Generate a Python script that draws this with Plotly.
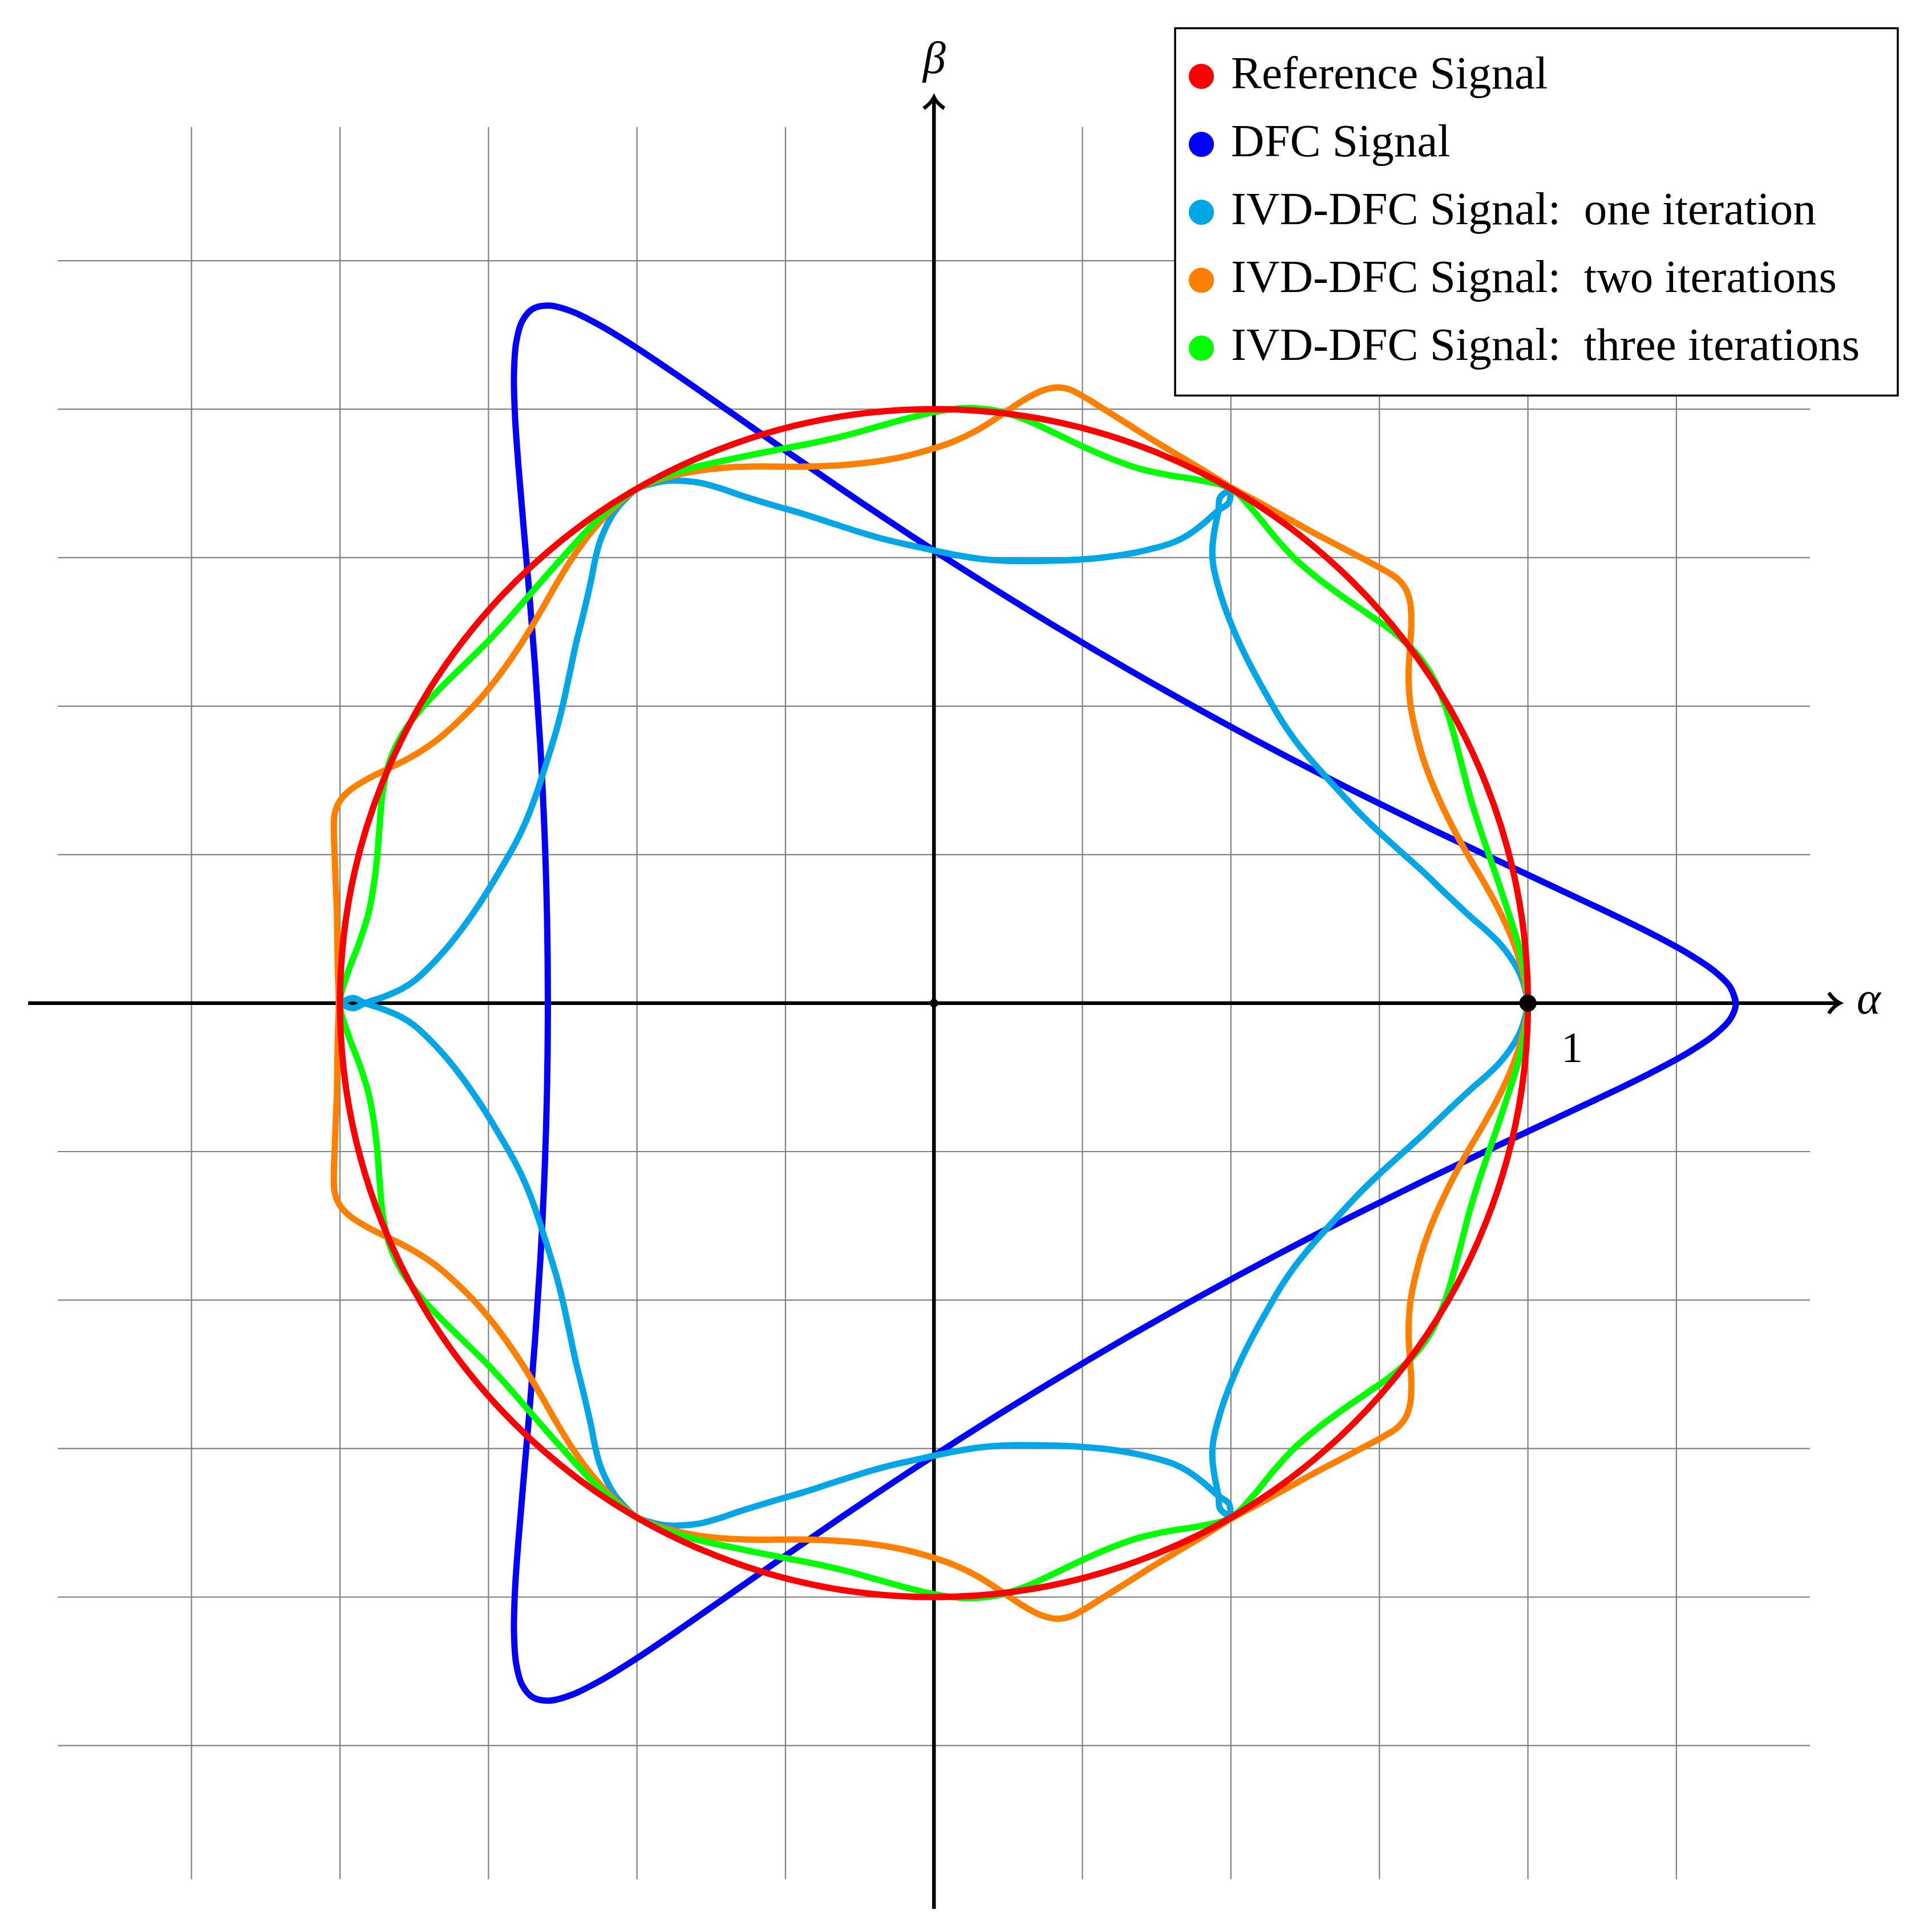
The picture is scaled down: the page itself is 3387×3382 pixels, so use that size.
import plotly.graph_objects as go

# alpha-beta plane: reference circle, DFC signal and IVD-DFC iterations
# values; upper half (beta >= 0) then lower half

ref_radius = 1.0

dfc_upper_alpha = [1.3500, 1.3409, 1.3137, 1.2690, 1.2078, 1.1313, 1.0410, 0.9389, 0.8268, 0.7071, 0.5820,
                   0.4539, 0.3250, 0.1976, 0.0739, -0.0443, -0.1552, -0.2575, -0.3500, -0.4318, -0.5025,
                   -0.5619, -0.6101, -0.6476, -0.6750, -0.6933, -0.7036, -0.7071, -0.7053, -0.6994, -0.6910,
                   -0.6813, -0.6716, -0.6628, -0.6559, -0.6515, -0.6500]
dfc_upper_beta = [0.0000, 0.0264, 0.0539, 0.0838, 0.1170, 0.1545, 0.1969, 0.2447, 0.2981, 0.3571, 0.4214,
                  0.4903, 0.5629, 0.6382, 0.7147, 0.7909, 0.8651, 0.9354, 1.0000, 1.0570, 1.1045,
                  1.1409, 1.1647, 1.1744, 1.1691, 1.1480, 1.1107, 1.0571, 0.9875, 0.9025, 0.8031,
                  0.6907, 0.5670, 0.4338, 0.2934, 0.1479, 0.0000]
dfc_lower_alpha = [-0.6515, -0.6559, -0.6628, -0.6716, -0.6813, -0.6910, -0.6994, -0.7053, -0.7071, -0.7036,
                   -0.6933, -0.6750, -0.6476, -0.6101, -0.5619, -0.5025, -0.4318, -0.3500, -0.2575, -0.1552,
                   -0.0443, 0.0739, 0.1976, 0.3250, 0.4539, 0.5820, 0.7071, 0.8268, 0.9389, 1.0410,
                   1.1313, 1.2078, 1.2690, 1.3137, 1.3409]
dfc_lower_beta = [-0.1479, -0.2934, -0.4338, -0.5670, -0.6907, -0.8031, -0.9025, -0.9875, -1.0571, -1.1107,
                  -1.1480, -1.1691, -1.1744, -1.1647, -1.1409, -1.1045, -1.0570, -1.0000, -0.9354, -0.8651,
                  -0.7909, -0.7147, -0.6382, -0.5629, -0.4903, -0.4214, -0.3571, -0.2981, -0.2447, -0.1969,
                  -0.1545, -0.1170, -0.0838, -0.0539, -0.0264]

one_upper_alpha = [1.0000, 0.9947, 0.9856, 0.9710, 0.9527, 0.9300, 0.9057, 0.8627, 0.8239, 0.7856,
                   0.7497, 0.7171, 0.6879, 0.6599, 0.6332, 0.6084, 0.5860, 0.5655, 0.5452, 0.5253,
                   0.5060, 0.4879, 0.4770, 0.4701, 0.4687, 0.4722, 0.4790, 0.4816, 0.4980,
                   0.4964, 0.4790, 0.4527, 0.4279, 0.4040, 0.3740, 0.3375, 0.2881, 0.2425, 0.1996,
                   0.1582, 0.1179, 0.0786, 0.0395, 0.0000, -0.0405, -0.0821, -0.1257, -0.1717, -0.2208,
                   -0.2726, -0.3287, -0.3590, -0.3897, -0.4193, -0.4480, -0.4749, -0.5000,
                   -0.5199, -0.5376, -0.5517, -0.5631, -0.5710, -0.5771, -0.5902, -0.6032, -0.6139, -0.6241,
                   -0.6351, -0.6475, -0.6600, -0.6727, -0.6870, -0.7039, -0.7238, -0.7448, -0.7679, -0.7941,
                   -0.8255, -0.8510, -0.8742, -0.8967, -0.9249, -0.9580, -0.9780, -0.9960]
one_upper_beta = [0.0000, 0.0260, 0.0517, 0.0764, 0.1001, 0.1224, 0.1434, 0.1834, 0.2208, 0.2553,
                  0.2878, 0.3193, 0.3505, 0.3810, 0.4112, 0.4420, 0.4745, 0.5092, 0.5452, 0.5834,
                  0.6248, 0.6715, 0.7072, 0.7380, 0.7648, 0.7954, 0.8297, 0.8512, 0.8626,
                  0.8427, 0.8297, 0.8066, 0.7883, 0.7761, 0.7667, 0.7583, 0.7506, 0.7466, 0.7448,
                  0.7443, 0.7448, 0.7479, 0.7540, 0.7620, 0.7710, 0.7807, 0.7932, 0.8080, 0.8239,
                  0.8388, 0.8561, 0.8666, 0.8752, 0.8791, 0.8795, 0.8744, 0.8660,
                  0.8484, 0.8277, 0.8027, 0.7750, 0.7442, 0.7127, 0.6554, 0.6031, 0.5526, 0.5054,
                  0.4613, 0.4204, 0.3810, 0.3428, 0.3059, 0.2702, 0.2351, 0.1996, 0.1632, 0.1258,
                  0.0867, 0.0595, 0.0381, 0.0235, 0.0112, 0.0000, -0.0085, 0.0000]
one_lower_alpha = [-0.9780, -0.9580, -0.9249, -0.8967, -0.8742, -0.8510, -0.8255, -0.7941, -0.7679, -0.7448,
                   -0.7238, -0.7039, -0.6870, -0.6727, -0.6600, -0.6475, -0.6351, -0.6241, -0.6139, -0.6032,
                   -0.5902, -0.5771, -0.5710, -0.5631, -0.5517, -0.5376, -0.5199,
                   -0.5000, -0.4749, -0.4480, -0.4193, -0.3897, -0.3590, -0.3287, -0.2726, -0.2208, -0.1717,
                   -0.1257, -0.0821, -0.0405, 0.0000, 0.0395, 0.0786, 0.1179, 0.1582, 0.1996, 0.2425,
                   0.2881, 0.3375, 0.3740, 0.4040, 0.4279, 0.4527, 0.4790, 0.4964,
                   0.4980, 0.4816, 0.4790, 0.4722, 0.4687, 0.4701, 0.4770, 0.4879, 0.5060, 0.5253,
                   0.5452, 0.5655, 0.5860, 0.6084, 0.6332, 0.6599, 0.6879, 0.7171, 0.7497, 0.7856,
                   0.8239, 0.8627, 0.9057, 0.9300, 0.9527, 0.9710, 0.9856, 0.9947]
one_lower_beta = [0.0085, 0.0000, -0.0112, -0.0235, -0.0381, -0.0595, -0.0867, -0.1258, -0.1632, -0.1996,
                  -0.2351, -0.2702, -0.3059, -0.3428, -0.3810, -0.4204, -0.4613, -0.5054, -0.5526, -0.6031,
                  -0.6554, -0.7127, -0.7442, -0.7750, -0.8027, -0.8277, -0.8484,
                  -0.8660, -0.8744, -0.8795, -0.8791, -0.8752, -0.8666, -0.8561, -0.8388, -0.8239, -0.8080,
                  -0.7932, -0.7807, -0.7710, -0.7620, -0.7540, -0.7479, -0.7448, -0.7443, -0.7448, -0.7466,
                  -0.7506, -0.7583, -0.7667, -0.7761, -0.7883, -0.8066, -0.8297, -0.8427,
                  -0.8626, -0.8512, -0.8297, -0.7954, -0.7648, -0.7380, -0.7072, -0.6715, -0.6248, -0.5834,
                  -0.5452, -0.5092, -0.4745, -0.4420, -0.4112, -0.3810, -0.3505, -0.3193, -0.2878, -0.2553,
                  -0.2208, -0.1834, -0.1434, -0.1224, -0.1001, -0.0764, -0.0517, -0.0260]

two_upper_alpha = [1.0000, 0.9916, 0.9756, 0.9541, 0.9292, 0.9031, 0.8788, 0.8570, 0.8377, 0.8215, 0.8089,
                   0.8023, 0.7992, 0.7995, 0.8018, 0.8037, 0.8020, 0.7941, 0.7800, 0.7560, 0.7224, 0.6812,
                   0.6407, 0.5937, 0.5474, 0.5010,
                   0.4563, 0.4107, 0.3647, 0.3262, 0.2867, 0.2543, 0.2290, 0.2070, 0.1818, 0.1518, 0.1223,
                   0.0940, 0.0673, 0.0329, 0.0000, -0.0483, -0.0959, -0.1436, -0.1921, -0.2420, -0.2936,
                   -0.3462, -0.3990, -0.4508, -0.5000,
                   -0.5408, -0.5766, -0.6080, -0.6356, -0.6612, -0.6867, -0.7134, -0.7419, -0.7733, -0.8089,
                   -0.8353, -0.8665, -0.8936, -0.9241, -0.9556, -0.9838, -1.0012, -1.0090, -1.0103, -1.0091,
                   -1.0074, -1.0055, -1.0045, -1.0037, -1.0020]
two_upper_beta = [0.0000, 0.0520, 0.1025, 0.1511, 0.1975, 0.2420, 0.2855, 0.3290, 0.3730, 0.4186, 0.4670,
                  0.5013, 0.5391, 0.5702, 0.6042, 0.6393, 0.6730, 0.6976, 0.7148, 0.7301, 0.7481, 0.7699,
                  0.7911, 0.8171, 0.8429, 0.8678,
                  0.8956, 0.9228, 0.9505, 0.9749, 0.9997, 1.0198, 1.0329, 1.0365, 1.0311, 1.0157, 0.9965,
                  0.9775, 0.9617, 0.9455, 0.9340, 0.9207, 0.9120, 0.9067, 0.9039, 0.9031, 0.9035,
                  0.9019, 0.8962, 0.8848, 0.8660,
                  0.8328, 0.7936, 0.7507, 0.7059, 0.6611, 0.6183, 0.5777, 0.5390, 0.5021, 0.4670,
                  0.4441, 0.4225, 0.4073, 0.3923, 0.3763, 0.3581, 0.3389, 0.3181, 0.2896, 0.2515,
                  0.2049, 0.1593, 0.1056, 0.0526, 0.0000]
two_lower_alpha = [-1.0037, -1.0045, -1.0055, -1.0074, -1.0091, -1.0103, -1.0090, -1.0012, -0.9838, -0.9556,
                   -0.9241, -0.8936, -0.8665, -0.8353, -0.8089, -0.7733, -0.7419, -0.7134, -0.6867, -0.6612,
                   -0.6356, -0.6080, -0.5766, -0.5408,
                   -0.5000, -0.4508, -0.3990, -0.3462, -0.2936, -0.2420, -0.1921, -0.1436, -0.0959, -0.0483,
                   0.0000, 0.0329, 0.0673, 0.0940, 0.1223, 0.1518, 0.1818, 0.2070, 0.2290, 0.2543,
                   0.2867, 0.3262, 0.3647, 0.4107, 0.4563,
                   0.5010, 0.5474, 0.5937, 0.6407, 0.6812, 0.7224, 0.7560, 0.7800, 0.7941, 0.8020,
                   0.8037, 0.8018, 0.7995, 0.7992, 0.8023, 0.8089, 0.8215, 0.8377, 0.8570, 0.8788,
                   0.9031, 0.9292, 0.9541, 0.9756, 0.9916]
two_lower_beta = [-0.0526, -0.1056, -0.1593, -0.2049, -0.2515, -0.2896, -0.3181, -0.3389, -0.3581, -0.3763,
                  -0.3923, -0.4073, -0.4225, -0.4441, -0.4670, -0.5021, -0.5390, -0.5777, -0.6183, -0.6611,
                  -0.7059, -0.7507, -0.7936, -0.8328,
                  -0.8660, -0.8848, -0.8962, -0.9019, -0.9035, -0.9031, -0.9039, -0.9067, -0.9120, -0.9207,
                  -0.9340, -0.9455, -0.9617, -0.9775, -0.9965, -1.0157, -1.0311, -1.0365, -1.0329, -1.0198,
                  -0.9997, -0.9749, -0.9505, -0.9228, -0.8956,
                  -0.8678, -0.8429, -0.8171, -0.7911, -0.7699, -0.7481, -0.7301, -0.7148, -0.6976, -0.6730,
                  -0.6393, -0.6042, -0.5702, -0.5391, -0.5013, -0.4670, -0.4186, -0.3730, -0.3290, -0.2855,
                  -0.2420, -0.1975, -0.1511, -0.1025, -0.0520]

three_upper_alpha = [1.0000, 0.9946, 0.9826, 0.9669, 0.9508, 0.9341, 0.9178, 0.9028, 0.8898, 0.8768, 0.8617,
                     0.8412, 0.8114, 0.7725, 0.7290, 0.6859, 0.6450, 0.6067, 0.5719, 0.5381, 0.5000,
                     0.4485, 0.3957, 0.3454, 0.2979, 0.2510, 0.2040, 0.1554, 0.1049, 0.0525, 0.0000,
                     -0.0515, -0.1018, -0.1513, -0.2007, -0.2503, -0.3004, -0.3509, -0.4018, -0.4522, -0.5000,
                     -0.5424, -0.5808, -0.6161, -0.6504, -0.6839, -0.7171, -0.7515, -0.7880, -0.8253, -0.8617,
                     -0.8937, -0.9163, -0.9280, -0.9330, -0.9370, -0.9429, -0.9522, -0.9677, -0.9867, -1.0000]
three_upper_beta = [0.0000, 0.0521, 0.1033, 0.1531, 0.2021, 0.2503, 0.2982, 0.3465, 0.3962, 0.4467, 0.4975,
                    0.5463, 0.5896, 0.6255, 0.6564, 0.6859, 0.7164, 0.7492, 0.7872, 0.8286, 0.8660,
                    0.8803, 0.8889, 0.9000, 0.9168, 0.9370, 0.9595, 0.9818, 0.9975, 1.0017, 0.9950,
                    0.9827, 0.9687, 0.9551, 0.9439, 0.9342, 0.9245, 0.9140, 0.9027, 0.8874, 0.8660,
                    0.8352, 0.7993, 0.7608, 0.7223, 0.6838, 0.6457, 0.6085, 0.5725, 0.5359, 0.4975,
                    0.4553, 0.4079, 0.3562, 0.3031, 0.2510, 0.2004, 0.1508, 0.1017, 0.0517, 0.0000]
three_lower_alpha = [-0.9867, -0.9677, -0.9522, -0.9429, -0.9370, -0.9330, -0.9280, -0.9163, -0.8937, -0.8617,
                     -0.8253, -0.7880, -0.7515, -0.7171, -0.6839, -0.6504, -0.6161, -0.5808, -0.5424,
                     -0.5000, -0.4522, -0.4018, -0.3509, -0.3004, -0.2503, -0.2007, -0.1513, -0.1018, -0.0515,
                     0.0000, 0.0525, 0.1049, 0.1554, 0.2040, 0.2510, 0.2979, 0.3454, 0.3957, 0.4485,
                     0.5000, 0.5381, 0.5719, 0.6067, 0.6450, 0.6859, 0.7290, 0.7725, 0.8114, 0.8412,
                     0.8617, 0.8768, 0.8898, 0.9028, 0.9178, 0.9341, 0.9508, 0.9669, 0.9826, 0.9946]
three_lower_beta = [-0.0517, -0.1017, -0.1508, -0.2004, -0.2510, -0.3031, -0.3562, -0.4079, -0.4553, -0.4975,
                    -0.5359, -0.5725, -0.6085, -0.6457, -0.6838, -0.7223, -0.7608, -0.7993, -0.8352,
                    -0.8660, -0.8874, -0.9027, -0.9140, -0.9245, -0.9342, -0.9439, -0.9551, -0.9687, -0.9827,
                    -0.9950, -1.0017, -0.9975, -0.9818, -0.9595, -0.9370, -0.9168, -0.9000, -0.8889, -0.8803,
                    -0.8660, -0.8286, -0.7872, -0.7492, -0.7164, -0.6859, -0.6564, -0.6255, -0.5896, -0.5463,
                    -0.4975, -0.4467, -0.3962, -0.3465, -0.2982, -0.2503, -0.2021, -0.1531, -0.1033, -0.0521]

grid_ticks = [-1.25, -1.0, -0.75, -0.5, -0.25, 0.0, 0.25, 0.5, 0.75, 1.0, 1.25]

legend_labels = ["Reference Signal", "DFC Signal",
                 "IVD-DFC Signal:\u00a0 one iteration",
                 "IVD-DFC Signal:\u00a0 two iterations",
                 "IVD-DFC Signal:\u00a0 three iterations"]
colors = ["#FF0000", "#0000FF", "#00A6E6", "#FF8000", "#00FF00"]

FONT = "Liberation Serif"
W, H = 3387, 3382
grid_ext = 1.475
axis_ext = 1.525
LW = 11

fig = go.Figure()

curves = [
    (dfc_upper_alpha, dfc_upper_beta, dfc_lower_alpha, dfc_lower_beta, colors[1]),
    (one_upper_alpha, one_upper_beta, one_lower_alpha, one_lower_beta, colors[2]),
    (two_upper_alpha, two_upper_beta, two_lower_alpha, two_lower_beta, colors[3]),
    (three_upper_alpha, three_upper_beta, three_lower_alpha, three_lower_beta, colors[4]),
]
for ua, ub, la, lb, c in curves:
    # close the loop, overlapping the first segment so the spline has no seam
    fig.add_trace(go.Scatter(
        x=ua + la + ua[:2], y=ub + lb + ub[:2], mode="lines",
        line=dict(color=c, width=LW, shape="spline", smoothing=1),
        hoverinfo="skip", showlegend=False,
    ))

shapes = []
for g in grid_ticks:
    shapes.append(dict(type="line", x0=g, x1=g, y0=-grid_ext, y1=grid_ext,
                       line=dict(color="#808080", width=2.2), layer="below"))
    shapes.append(dict(type="line", x0=-grid_ext, x1=grid_ext, y0=g, y1=g,
                       line=dict(color="#808080", width=2.2), layer="below"))

# axes with "to" style arrow tips
shapes.append(dict(type="line", x0=-axis_ext, x1=axis_ext - 0.003, y0=0, y1=0,
                   line=dict(color="black", width=6.5), layer="below"))
shapes.append(dict(type="line", x0=0, x1=0, y0=-axis_ext, y1=axis_ext - 0.003,
                   line=dict(color="black", width=6.5), layer="below"))
al, aw = 0.0185, 0.0173
t = axis_ext
shapes.append(dict(type="path", layer="below", line=dict(color="black", width=6.5),
                   path=f"M {t-al},{aw} Q {t-0.55*al},{0.29*aw} {t},0 Q {t-0.55*al},{-0.29*aw} {t-al},{-aw}"))
shapes.append(dict(type="path", layer="below", line=dict(color="black", width=6.5),
                   path=f"M {aw},{t-al} Q {0.29*aw},{t-0.55*al} 0,{t} Q {-0.29*aw},{t-0.55*al} {-aw},{t-al}"))
shapes.append(dict(type="circle", x0=-0.0072, x1=0.0072, y0=-0.0072, y1=0.0072,
                   fillcolor="black", line=dict(width=0), layer="below"))

# reference signal on top of the other curves
shapes.append(dict(type="circle", x0=-ref_radius, x1=ref_radius, y0=-ref_radius, y1=ref_radius,
                   line=dict(color=colors[0], width=LW), layer="above"))
shapes.append(dict(type="circle", x0=ref_radius - 0.0144, x1=ref_radius + 0.0144, y0=-0.0144, y1=0.0144,
                   fillcolor="black", line=dict(width=0), layer="above"))

# legend box
shapes.append(dict(type="rect", x0=0.406, x1=1.6227, y0=1.0229, y1=1.6414,
                   fillcolor="white", line=dict(color="black", width=3.5), layer="above"))
annotations = []
row0, row_step, mx, mr = 1.5603, 0.1144, 0.4502, 0.0212
for i, (lab, c) in enumerate(zip(legend_labels, colors)):
    yc = row0 - i * row_step
    shapes.append(dict(type="circle", x0=mx - mr, x1=mx + mr, y0=yc - mr, y1=yc + mr,
                       fillcolor=c, line=dict(width=0), layer="above"))
    annotations.append(dict(x=0.4985, y=yc + 0.006, text=lab, showarrow=False,
                            xanchor="left", yanchor="middle",
                            font=dict(family=FONT, size=81, color="black")))

annotations.append(dict(x=1.5747, y=0.008, text="<i>α</i>", showarrow=False,
                        font=dict(family=FONT, size=80, color="black")))
annotations.append(dict(x=0.0, y=1.592, text="<i>β</i>", showarrow=False,
                        font=dict(family=FONT, size=80, color="black")))
annotations.append(dict(x=1.0743, y=-0.0742, text="1", showarrow=False,
                        font=dict(family=FONT, size=76, color="black")))

fig.update_layout(
    width=W, height=H,
    margin=dict(l=0, r=0, t=0, b=0),
    paper_bgcolor="white", plot_bgcolor="white",
    showlegend=False,
    xaxis=dict(visible=False, range=[-1.5724, 1.6803]),
    yaxis=dict(visible=False, range=[-1.5589, 1.6889]),
    shapes=shapes,
    annotations=annotations,
)

fig.write_html("out.html", config={"displayModeBar": False},
               post_script="document.body.style.margin='0px';")
